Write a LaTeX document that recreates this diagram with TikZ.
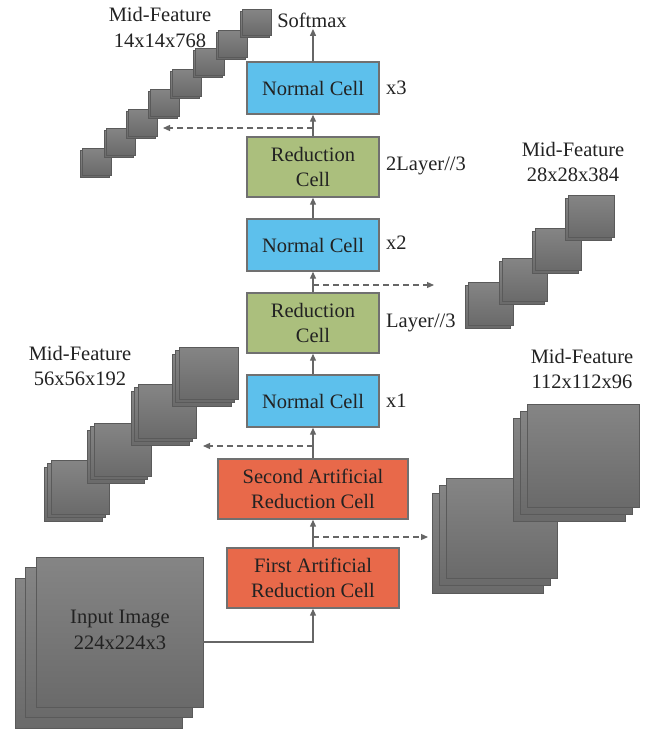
\documentclass[tikz,border=0pt]{standalone}
\usepackage{fontspec}
\setmainfont{Liberation Serif}
\usetikzlibrary{arrows.meta}
\definecolor{cellblue}{HTML}{5DC0EC}
\definecolor{cellgreen}{HTML}{ABBF7D}
\definecolor{cellorange}{HTML}{E8694A}
\definecolor{cellborder}{HTML}{707070}
\definecolor{sqtop}{HTML}{858585}
\definecolor{sqbot}{HTML}{6A6A6A}
\definecolor{sqline}{HTML}{5A5A5A}
\definecolor{linegray}{HTML}{666666}
\definecolor{txtcol}{HTML}{222222}
\tikzset{
  txt/.style={inner sep=0pt, text=txtcol, font=\fontsize{20.5}{25.5}\selectfont, align=center},
  cellbox/.style={draw=cellborder, line width=1.4pt, txt, minimum width=132pt},
  ncell/.style={cellbox, fill=cellblue, minimum height=52pt},
  rcell/.style={cellbox, fill=cellgreen, minimum height=60pt},
  acell/.style={cellbox, fill=cellorange, minimum height=60pt},
  arr/.style={draw=linegray, line width=1.2pt, -{Triangle[length=7pt,width=6pt]}},
  dsh/.style={draw=linegray, line width=1.2pt, dash pattern=on 6pt off 4pt, -{Triangle[length=7pt,width=6pt]}},
  sq/.style={draw=sqline, line width=0.8pt, top color=sqtop, bottom color=sqbot}
}
% #1 x, #2 y of front top-left, #3 w, #4 h, #5 layers, #6 dx, #7 dy
\newcommand\featstack[7]{%
  \foreach \k in {#5,...,1}{%
    \pgfmathsetmacro\fx{#1+(\k-1)*(#6)}%
    \pgfmathsetmacro\fy{#2+(\k-1)*(#7)}%
    \path[sq] (\fx,\fy) rectangle ++(#3,#4);
  }%
}
\begin{document}
\begin{tikzpicture}[x=1pt,y=-1pt]
\useasboundingbox (0,0) rectangle (651,731);

% ---- feature stacks ----
% input image
\featstack{36}{557}{167}{150}{3}{-10.5}{10.5}
% 112x112x96
\featstack{446}{478}{111}{100}{3}{-7}{7.5}
\featstack{527}{404}{112}{103}{3}{-7}{7}
% 56x56x192
\featstack{51}{460}{58}{54}{3}{-3.5}{3.5}
\featstack{94}{423}{57}{53}{3}{-3.5}{3.5}
\featstack{138}{384}{58}{54}{3}{-3.5}{3.5}
\featstack{179}{347}{59}{52}{3}{-3.5}{3.5}
% 28x28x384
\featstack{468}{282}{45}{43}{2}{-3}{3}
\featstack{502}{258}{45}{43}{2}{-3}{3}
\featstack{535}{228}{46}{42}{2}{-3}{3}
\featstack{568}{195}{46}{42}{2}{-3}{3}
% 14x14x768
\featstack{82}{148}{29}{27}{2}{-2}{2}
\featstack{106}{128}{29}{27}{2}{-2}{2}
\featstack{128}{109}{29}{27}{2}{-2}{2}
\featstack{150}{89}{29}{27}{2}{-2}{2}
\featstack{172}{69}{29}{27}{2}{-2}{2}
\featstack{195}{48}{29}{27}{2}{-2}{2}
\featstack{218}{30}{29}{27}{2}{-2}{2}
\featstack{242}{9}{29}{26}{2}{-2}{2}

% ---- labels of stacks ----
\node[txt] (lab14) at (160,27.5) {Mid-Feature\\14x14x768};
\node[txt] (lab28) at (573,162) {Mid-Feature\\28x28x384};
\node[txt] (lab56) at (80,366) {Mid-Feature\\56x56x192};
\node[txt] (lab112) at (582,369) {Mid-Feature\\112x112x96};
\node[txt] (inp) at (120,630) {Input Image\\224x224x3};

% ---- cells ----
\node[ncell] (n3) at (313,88) {Normal Cell};
\node[rcell] (r2) at (313,167) {Reduction\\Cell};
\node[ncell] (n2) at (313,245) {Normal Cell};
\node[rcell] (r1) at (313,323) {Reduction\\Cell};
\node[ncell] (n1) at (313,401) {Normal Cell};
\node[acell, minimum width=190pt] (a2) at (313,489) {Second Artificial\\Reduction Cell};
\node[acell, minimum width=172pt] (a1) at (313,578) {First Artificial\\Reduction Cell};
\node[txt, inner sep=1.5pt, anchor=base] (sm) at (312,27) {Softmax};

% side labels
\node[txt, anchor=west] (x3) at (386,88) {x3};
\node[txt, anchor=west] (l2) at (386,166) {2Layer//3};
\node[txt, anchor=west] (x2) at (386,243) {x2};
\node[txt, anchor=west] (l1) at (386,323) {Layer//3};
\node[txt, anchor=west] (x1) at (386,401) {x1};

% ---- connectors ----
\coordinate (inR) at (203,642);
\draw[arr] (inR) -| (a1.south);
\draw[arr] (a1.north) -- (a2.south);
\draw[arr] (a2.north) -- (n1.south);
\draw[arr] (n1.north) -- (r1.south);
\draw[arr] (r1.north) -- (n2.south);
\draw[arr] (n2.north) -- (r2.south);
\draw[arr] (r2.north) -- (n3.south);
\draw[arr] (n3.north) -- (n3.north |- sm.south);

% dashed taps
\coordinate (t1) at (313,128); \coordinate (e1) at (163,128);
\coordinate (t2) at (313,285); \coordinate (e2) at (434,285);
\coordinate (t3) at (313,446); \coordinate (e3) at (203,446);
\coordinate (t4) at (313,537); \coordinate (e4) at (428,537);
\draw[dsh] (t1) -- (e1);
\draw[dsh] (t2) -- (e2);
\draw[dsh] (t3) -- (e3);
\draw[dsh] (t4) -- (e4);
\end{tikzpicture}
\end{document}
